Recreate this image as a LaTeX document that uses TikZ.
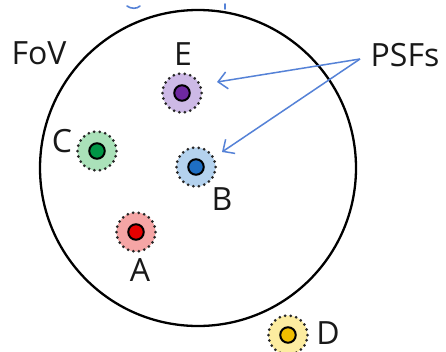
\documentclass[tikz,border=0pt]{standalone}
\usepackage{fontspec}
\setmainfont{Open Sans}
\usetikzlibrary{arrows.meta}
\definecolor{arrowblue}{RGB}{85,130,215}
\definecolor{haloE}{RGB}{205,185,230}\definecolor{coreE}{RGB}{110,40,160}
\definecolor{haloC}{RGB}{170,225,185}\definecolor{coreC}{RGB}{0,150,70}
\definecolor{haloB}{RGB}{180,210,238}\definecolor{coreB}{RGB}{30,110,195}
\definecolor{haloA}{RGB}{245,165,165}\definecolor{coreA}{RGB}{230,0,0}
\definecolor{haloD}{RGB}{252,236,160}\definecolor{coreD}{RGB}{240,190,0}
\tikzset{
  halo/.style={circle, minimum size=39pt, inner sep=0pt, draw=black!85,
    line width=3pt, line cap=round, dash pattern=on 0pt off 5.57pt},
  core/.style={circle, minimum size=15.5pt, inner sep=0pt, draw=black, line width=2pt},
  lbl/.style={font=\fontsize{32}{36}\selectfont, text=black!90, inner sep=0pt},
  psfarrow/.style={draw=arrowblue, line width=1.5pt,
    -{Straight Barb[length=9pt,width=17pt,line width=1.5pt]}},
  fov/.style={draw=black, line width=2.3pt}
}
\begin{document}
\begin{tikzpicture}[x=1pt,y=-1pt]
\useasboundingbox (0,0) rectangle (446,351);
\fill[white] (0,0) rectangle (446,351);
% field of view
\coordinate (fovc) at (198,168);
\draw[fov] (fovc) circle[radius=158];
% partial blue marks at top
\draw[arrowblue, line width=1.6pt, line cap=round] (127,6) .. controls (131,9) and (137,9) .. (140,6);
\draw[arrowblue, line width=1.6pt, line cap=round] (225,4) -- (225,9);
% PSFs
\node[halo, fill=haloE] (E) at (182,93) {};
\node[core, fill=coreE] (Ec) at (182,93) {};
\node[halo, fill=haloC] (C) at (97,151) {};
\node[core, fill=coreC] (Cc) at (97,151) {};
\node[halo, fill=haloB] (B) at (196,167) {};
\node[core, fill=coreB] (Bc) at (196,167) {};
\node[halo, fill=haloA] (A) at (136,232) {};
\node[core, fill=coreA] (Ac) at (136,232) {};
\node[halo, fill=haloD] (D) at (288,335) {};
\node[core, fill=coreD] (Dc) at (288,335) {};
% labels
\node[lbl] (Elbl) at (183,54) {E};
\node[lbl] (Clbl) at (62,141) {C};
\node[lbl] (Blbl) at (222,199) {B};
\node[lbl] (Albl) at (140,270) {A};
\node[lbl] (Dlbl) at (328,333) {D};
\node[lbl] (fovlbl) at (39,53) {FoV};
\node[lbl] (psflbl) at (405,55) {PSFs};
% arrows
\coordinate (apex) at (360,59);
\coordinate (tipE) at (217,82);
\coordinate (tipB) at (222,152);
\draw[psfarrow] (apex) -- (tipE);
\draw[psfarrow] (apex) -- (tipB);
\end{tikzpicture}
\end{document}
